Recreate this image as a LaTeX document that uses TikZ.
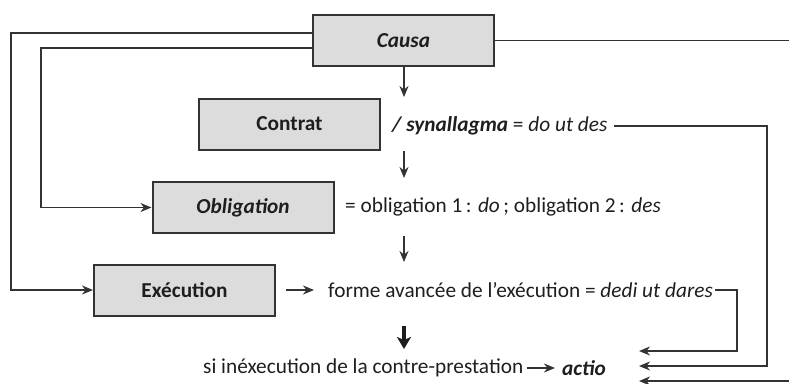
\documentclass[tikz,border=0pt]{standalone}
\usepackage{fontspec}
\setmainfont{Carlito}
\usetikzlibrary{arrows.meta}
\definecolor{boxfill}{HTML}{DCDCDC}
\definecolor{ink}{HTML}{1E1E1E}
\definecolor{wire}{HTML}{333333}
\begin{document}
\begin{tikzpicture}[x=1pt,y=-1pt,
  every node/.style={font=\fontsize{21.3}{24}\selectfont, text=ink},
  stepbox/.style={draw=wire, line width=2pt, fill=boxfill, minimum width=181pt, minimum height=51pt, inner sep=0pt},
  txt/.style={inner sep=1pt, anchor=west},
  conn/.style={draw=wire, line width=1.8pt},
  arr/.style={conn, -{Stealth[length=11pt,width=9pt,inset=3.5pt]}},
  bigarr/.style={draw=ink, line width=3.2pt, -{Stealth[length=12pt,width=14pt,inset=3pt]}}]
\useasboundingbox (0,0) rectangle (789,383);
\clip (0,0) rectangle (789,383);

% boxes
\node[stepbox] (causa) at (403.5,40.5) {\textbf{\textit{Causa}}};
\node[stepbox] (contrat) at (289.5,124) {\textbf{Contrat}};
\node[stepbox] (oblig) at (243,207.5) {\textbf{\textit{Obligation}}};
\node[stepbox] (exec) at (184.5,290) {\textbf{Exécution}};

% texts
\node[txt] (syn) at (391,126) {\textbf{\textit{/ synallagma}} = \textit{do ut des}};
\node[txt] (obl) at (344,207) {= obligation 1\,: \textit{do}\,; obligation 2\,: \textit{des}};
\node[txt] (forme) at (327,290) {forme avancée de l’exécution = \textit{dedi ut dares}};
\node[txt] (inex) at (202,368) {si inéxecution de la contre-prestation};
\node[txt] (actio) at (561,368) {\textbf{\textit{actio}}};

% coordinates for free ends
\coordinate (o1) at (11,33);
\coordinate (o2) at (41,48);
\coordinate (rc) at (800,40.5);
\coordinate (t1) at (639,351);
\coordinate (t2) at (639,366);
\coordinate (t3) at (639,381);
\coordinate (a1) at (404,97);
\coordinate (a2s) at (404,151);
\coordinate (a2e) at (404,178);
\coordinate (a3s) at (404,236);
\coordinate (a3e) at (404,262);
\coordinate (a4s) at (404,326);
\coordinate (a4e) at (404,349);

% left feedback lines
\draw[arr] (o1 -| causa.west) -- (o1) |- (exec.west);
\draw[arr] (o2 -| causa.west) -- (o2) |- (oblig.west);

% right lines to the final row
\draw[arr] (causa.east) -- (rc) |- (t3);
\draw[arr] ([xshift=5pt]syn.east) -- (767,126) |- (t2);
\draw[arr] ([xshift=1pt]forme.east) -- (737,290) |- (t1);

% vertical arrows
\draw[arr] (causa.south -| a1) -- (a1);
\draw[arr] (a2s) -- (a2e);
\draw[arr] (a3s) -- (a3e);
\draw[bigarr] (a4s) -- (a4e);

% horizontal arrows in text rows
\draw[arr] ([xshift=10pt]exec.east) -- ([xshift=-13pt]forme.west);
\draw[arr] ([xshift=2pt]inex.east) -- ([xshift=-6pt]actio.west);
\end{tikzpicture}
\end{document}
